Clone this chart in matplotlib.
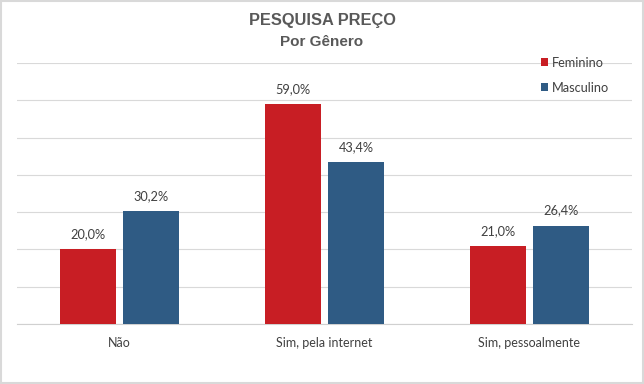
import numpy as np
import matplotlib
matplotlib.use('Agg')
import matplotlib.pyplot as plt
from matplotlib.patches import Rectangle

categorias = ['Não', 'Sim, pela internet', 'Sim, pessoalmente']
feminino = [20.0, 59.0, 21.0]
masculino = [30.2, 43.4, 26.4]
series = ['Feminino', 'Masculino']

cor_fem = '#C81E24'
cor_masc = '#2F5B84'
cor_texto = '#404040'

plt.rcParams['font.family'] = ['Lato', 'DejaVu Sans']

fig = plt.figure(figsize=(6.44, 3.84), dpi=100)
ax = fig.add_axes([17/644, 60/384, 615/644, 261/384])

x = np.arange(len(categorias))
w = 0.272
gap = 0.039
b1 = ax.bar(x - (w + gap)/2, feminino, w, color=cor_fem, label=series[0], zorder=3)
b2 = ax.bar(x + (w + gap)/2, masculino, w, color=cor_masc, label=series[1], zorder=3)

for bars, vals in [(b1, feminino), (b2, masculino)]:
    for r, v in zip(bars, vals):
        ax.annotate('{:.1f}%'.format(v).replace('.', ','),
                    (r.get_x() + r.get_width()/2, v),
                    xytext=(0, 6.5), textcoords='offset points',
                    ha='center', va='bottom', fontsize=9.2, color=cor_texto)

ax.set_xlim(-0.5, 2.5)
ax.set_ylim(0, 70)
ax.set_yticks(np.arange(0, 71, 10))
ax.yaxis.grid(True, color='#d9d9d9', linewidth=0.8, zorder=0)
ax.tick_params(axis='y', left=False, labelleft=False)
ax.tick_params(axis='x', bottom=False, labelsize=9, colors=cor_texto, pad=6)
ax.set_xticks(x)
ax.set_xticklabels(categorias)
for s in ['top', 'right', 'left']:
    ax.spines[s].set_visible(False)
ax.spines['bottom'].set_color('#d0d0d0')
ax.spines['bottom'].set_linewidth(0.8)

leg = ax.legend(loc='upper left', bbox_to_anchor=(529/644, 339/384),
                bbox_transform=fig.transFigure, frameon=False,
                handlelength=0.6, handleheight=0.6, handletextpad=0.3,
                labelspacing=1.05, fontsize=9.2)
for t in leg.get_texts():
    t.set_color(cor_texto)

fig.text(0.5, 1 - 20/384, 'PESQUISA PREÇO', ha='center', va='center',
         fontsize=11.8, fontweight='bold', color='#595959', family='Liberation Sans')
fig.text(0.5, 1 - 42/384, 'Por Gênero', ha='center', va='center',
         fontsize=11, fontweight='bold', color='#595959', family='Liberation Sans')

fig.patches.append(Rectangle((0.001, 0.002), 0.997, 0.996, transform=fig.transFigure,
                             fill=False, edgecolor='#d9d9d9', linewidth=1.5))

fig.savefig('out.png', dpi=100)
